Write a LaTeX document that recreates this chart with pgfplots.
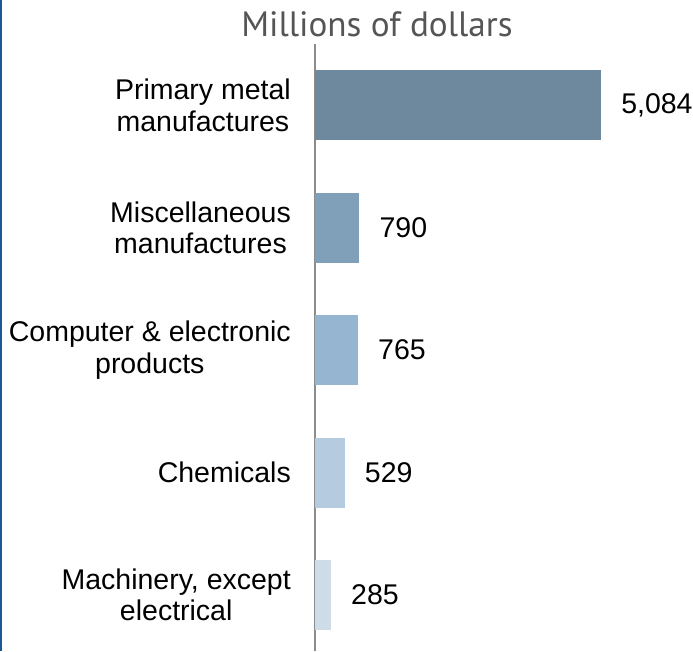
\documentclass[border=0pt]{standalone}
\usepackage{fontspec}
\setmainfont{Liberation Sans}
\newfontfamily\titlefont{PT Sans}
\usepackage{pgfplots}
\pgfplotsset{compat=1.18}
\definecolor{cA}{RGB}{110,136,157}
\definecolor{cB}{RGB}{128,160,185}
\definecolor{cC}{RGB}{149,181,209}
\definecolor{cD}{RGB}{181,203,223}
\definecolor{cE}{RGB}{206,220,232}
\definecolor{axgray}{RGB}{140,140,140}
\definecolor{titlegray}{RGB}{85,85,85}
\definecolor{edgeblue}{RGB}{25,90,150}
\begin{document}
\begin{tikzpicture}
\path[use as bounding box] (-315pt,0pt) rectangle (378pt,651pt);
\begin{axis}[
  at={(0pt,0pt)}, anchor=south west,
  scale only axis,
  width=337.6pt, height=607pt,
  xmin=0, xmax=6000,
  ymin=-0.457, ymax=4.5,
  xbar, bar width=70pt, bar shift=0pt,
  axis x line=none,
  axis y line=left,
  y axis line style={-, draw=axgray, line width=2.2pt},
  major tick length=0pt,
  ytick={0,1,2,3,4},
  yticklabels={{Machinery, except\\electrical},{Chemicals},{Computer \& electronic\\products},{Miscellaneous\\manufactures},{Primary metal\\manufactures}},
  yticklabel style={align=center, font=\fontsize{28.5}{31.5}\selectfont, inner sep=0pt, xshift=-24pt, text=black},
  nodes near coords,
  every node near coord/.append style={anchor=west, xshift=20pt, inner sep=0pt, font=\fontsize{28.5}{31.5}\selectfont, text=black},
  /pgf/number format/1000 sep={,},
  /pgf/number format/assume math mode=true,
  clip=false,
]
\addplot[draw=none, fill=cA] coordinates {(5084,4)};
\addplot[draw=none, fill=cB] coordinates {(790,3)};
\addplot[draw=none, fill=cC] coordinates {(765,2)};
\addplot[draw=none, fill=cD] coordinates {(529,1)};
\addplot[draw=none, fill=cE] coordinates {(285,0)};
\end{axis}
\node[anchor=base, text=titlegray, font=\titlefont\fontsize{35.2}{38}\selectfont, inner sep=0pt] at (62pt,614pt) {Millions of dollars};
\draw[edgeblue, line width=2pt] (-314pt,0pt) -- (-314pt,651pt);
\end{tikzpicture}
\end{document}
